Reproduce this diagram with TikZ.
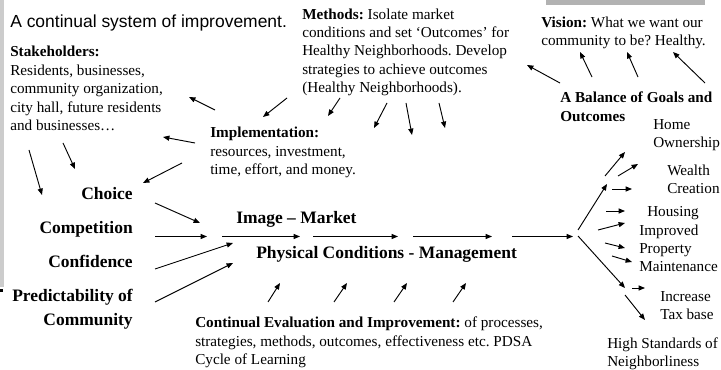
\documentclass[tikz,border=0pt]{standalone}
\usepackage{fontspec}
\setmainfont{Liberation Serif}
\newfontfamily\titlefont{Liberation Sans}
\usetikzlibrary{arrows.meta}
\frenchspacing

\begin{document}
\begin{tikzpicture}[x=0.75pt, y=-0.75pt,
    txt/.style={inner sep=0pt, anchor=north west, align=left, font=\fontsize{11.4}{13.8}\selectfont},
    big/.style={inner sep=0pt, font=\fontsize{13.1}{15}\selectfont\bfseries},
    arrow/.style={-{Triangle[length=4.8pt, width=3.8pt]}, line width=0.7pt}]

    % Define colors
    \definecolor{barcolor}{RGB}{204,204,204}
    \definecolor{tabcolor}{RGB}{178,178,178}

    \useasboundingbox (0,0) rectangle (721,370);

    % Grey bars
    \fill[barcolor] (0,0) rectangle (4,287);
    \fill[tabcolor] (546,0) rectangle (705,5);
    \fill[black] (0,289) rectangle (3,292);

    % Text blocks
    \node[inner sep=0pt, anchor=north west, font=\titlefont\fontsize{13.1}{15}\selectfont] (title) at (10,15) {A continual system of improvement.};
    \node[txt] (stake) at (10,46) {\textbf{Stakeholders:}\\Residents, businesses,\\community organization,\\city hall, future residents\\and businesses…};
    \node[txt] (methods) at (302,8.2) {\textbf{Methods:} Isolate market\\conditions and set ‘Outcomes’ for\\Healthy Neighborhoods. Develop\\strategies to achieve outcomes\\(Healthy Neighborhoods).};
    \node[txt] (vision) at (541,16.2) {\textbf{Vision:} What we want our\\community to be? Healthy.};
    \node[txt, font=\fontsize{11.4}{13.8}\selectfont\bfseries] (balance) at (560,92) {A Balance of Goals and\\Outcomes};
    \node[txt] (impl) at (210,127) {\textbf{Implementation:}\\resources, investment,\\time, effort, and money.};
    \node[txt] (eval) at (195,317) {\textbf{Continual Evaluation and Improvement:} of processes,\\strategies, methods, outcomes, effectiveness etc. PDSA\\Cycle of Learning};

    % Centre labels
    \node[big, anchor=base west] (image) at (236,223.5) {Image – Market};
    \node[big, anchor=base west] (phys) at (256,258.5) {Physical Conditions - Management};

    % Left column
    \node[big, anchor=base east] (choice) at (133,200) {Choice};
    \node[big, anchor=base east] (compet) at (133,234) {Competition};
    \node[big, anchor=base east] (confid) at (133,267.5) {Confidence};
    \node[big, anchor=base east] (predict) at (133,301.5) {Predictability of};
    \node[big, anchor=base east] (commun) at (133,325.5) {Community};

    % Outcomes on the right
    \node[txt] (home) at (653,119.2) {Home\\Ownership};
    \node[txt] (wealth) at (667,164.2) {Wealth\\Creation};
    \node[txt] (housing) at (647,206.2) {Housing};
    \node[txt] (improved) at (639,224.2) {Improved\\Property\\Maintenance};
    \node[txt] (tax) at (660,291.2) {Increase\\Tax base};
    \node[txt] (neigh) at (607,337.2) {High Standards of\\Neighborliness};

    % Arrows in the upper part
    \foreach \sx/\sy/\ex/\ey in {29/150/42/195, 63/143/75/169, 215/110/189/97,
        195/143/163/137, 182/163/143/183, 287/98/263/117, 340/98/328/116,
        387/103/374/128, 406/103/412/135, 439/103/445/128, 560/83/527/65,
        592/77/580/52, 638/77/627/52, 705/83/673/52}
        \draw[arrow] (\sx,\sy) -- (\ex,\ey);

    % Arrows in the middle row
    \foreach \sx/\sy/\ex/\ey in {155/203/200/223, 155/236.5/207/236.5,
        222/236.5/300/236.5, 313/236.5/398/236.5, 413/236.5/492/236.5,
        512/236.5/573/236.5, 155/269/233/243, 155/302/233/263,
        268/302/280/283, 334/302/347/283, 394/302/407/283, 453/302/466/283}
        \draw[arrow] (\sx,\sy) -- (\ex,\ey);

    % Fan of outcomes
    \foreach \sx/\sy/\ex/\ey in {578/230/607/184, 578/236/625/288,
        605/176/625/152, 618/176/638/164, 612/189/632/189, 606/211/625/211,
        598/230/625/223, 605/243/625/248, 612/256/632/262, 632/288/645/288,
        625/295/645/320}
        \draw[arrow] (\sx,\sy) -- (\ex,\ey);

\end{tikzpicture}
\end{document}
